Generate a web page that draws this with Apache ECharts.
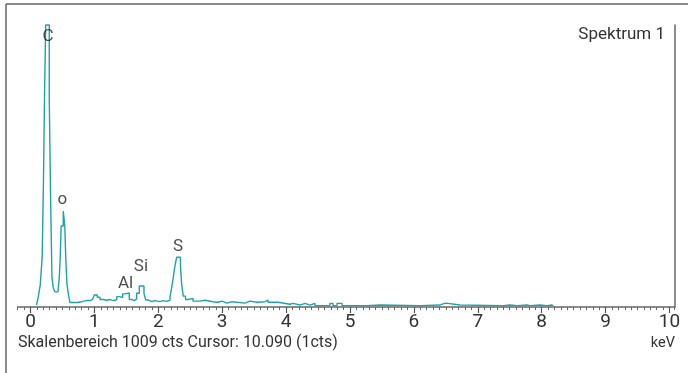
<!DOCTYPE html>
<html><head><meta charset="utf-8">
<script src="https://cdn.jsdelivr.net/npm/echarts@6/dist/echarts.min.js"></script>
<style>html,body{margin:0;padding:0;background:#fff}#c{width:688px;height:373px}</style>
</head><body><div id="c"></div>
<script>
// Spectrum channels: left edge energy (keV) and counts
const energyKeV = [0.094,0.122,0.153,0.183,0.203,0.221,0.238,0.294,0.316,0.336,0.357,0.383,0.430,0.451,0.466,0.480,0.513,0.537,0.552,0.571,0.595,0.618,0.732,0.801,0.869,0.900,0.931,0.970,0.998,1.045,1.088,1.139,1.197,1.244,1.291,1.349,1.393,1.443,1.479,1.546,1.584,1.628,1.662,1.703,1.776,1.803,1.844,1.901,1.948,2.027,2.074,2.136,2.183,2.214,2.235,2.261,2.288,2.347,2.366,2.391,2.426,2.465,2.496,2.543,2.653,2.731,2.856,2.934,2.997,3.075,3.153,3.357,3.435,3.545,3.670,3.717,3.873,4.061,4.108,4.217,4.296,4.374,4.452,4.687,4.734,4.797,4.875,5.266,5.470,6.095,6.408,6.455,6.502,6.721,7.394,7.504,7.613,7.770,7.817,7.973,8.083,8.161,8.185];
const counts = [7,36,79,179,444,776,1009,744,372,107,68,54,57,107,179,290,343,290,175,82,43,16,19,23,20,23,27,34,43,35,27,24,27,23,26,37,34,47,50,27,23,29,49,75,49,25,19,23,19,23,20,25,36,75,107,147,178,147,82,39,27,23,31,21,24,19,17,21,14,19,14,21,17,19,25,17,10,13,7,13,7,13,5,13,5,13,5,7,5,7,11,14,7,5,7,5,7,5,7,5,7,5,5];
// Element labels
const peakNames = ['C','o','Al','Si','S'];
const peakKeV = [0.274,0.50,1.487,1.729,2.308];
const peakCts = [966,383,84,145,215];
// Axis
const majorTicks = [0,1,2,3,4,5,6,7,8,9,10];
const xMin = -0.2, xMax = 10.08, fullScale = 1009;
const titleText = 'Spektrum 1';
const footText = 'Skalenbereich 1009 cts Cursor: 10.090 (1cts)';
const unitText = 'keV';

const FONT = 'Roboto, "Liberation Sans", sans-serif';
const chart = echarts.init(document.getElementById('c'), null, {renderer:'canvas'});
const lineData = energyKeV.map((e,i)=>[e, counts[i]]);
const labelData = peakNames.map((n,i)=>({name:n, value:[peakKeV[i], peakCts[i]]}));
const isInt = v => Math.abs(v - Math.round(v)) < 1e-6;

chart.setOption({
  animation:false,
  backgroundColor:'#fff',
  grid:{left:17.7, right:13.4, top:25, bottom:66},
  xAxis:[
    {type:'value', min:xMin, max:xMax, interval:0.1, position:'bottom',
     axisLine:{show:true, onZero:false, lineStyle:{color:'#666', width:1.5}},
     axisTick:{show:true, length:3, lineStyle:{color:'#666', width:1}},
     splitLine:{show:false},
     axisLabel:{show:true, margin:6, fontSize:19, color:'#333', fontFamily:FONT,
       formatter:v => isInt(v) && v >= 0 && v <= 10 ? String(Math.round(v)) : ''}},
    {type:'value', min:xMin, max:xMax, position:'bottom', offset:0,
     axisLine:{show:false, onZero:false},
     axisTick:{show:true, length:6, customValues:majorTicks, lineStyle:{color:'#555', width:1.2}},
     axisLabel:{show:false}, splitLine:{show:false}}
  ],
  yAxis:{type:'value', min:0, max:fullScale, position:'right',
    axisLine:{show:true, onZero:false, lineStyle:{color:'#666', width:1.5}},
    axisTick:{show:false}, axisLabel:{show:false}, splitLine:{show:false}},
  graphic:[
    {type:'line', shape:{x1:6,y1:4,x2:688,y2:4}, style:{stroke:'#666', lineWidth:1.5}},
    {type:'line', shape:{x1:6,y1:4,x2:6,y2:373}, style:{stroke:'#666', lineWidth:1.5}},
    {type:'text', right:23, top:26, style:{text:titleText, font:'17px '+FONT, fill:'#333'}},
    {type:'text', left:18, top:335, style:{text:footText, font:'16px '+FONT, fill:'#333'}},
    {type:'text', right:13, top:336, style:{text:unitText, font:'14.5px '+FONT, fill:'#333'}}
  ],
  series:[
    {type:'line', step:'end', data:lineData, showSymbol:false, symbol:'none',
     lineStyle:{color:'#1fa3a6', width:1.4}, clip:false, z:3},
    {type:'scatter', data:labelData, symbolSize:0, xAxisIndex:0, z:4, silent:true,
     label:{show:true, position:'inside', formatter:p=>p.name, fontSize:17, color:'#222', fontFamily:FONT}}
  ]
});
</script></body></html>
